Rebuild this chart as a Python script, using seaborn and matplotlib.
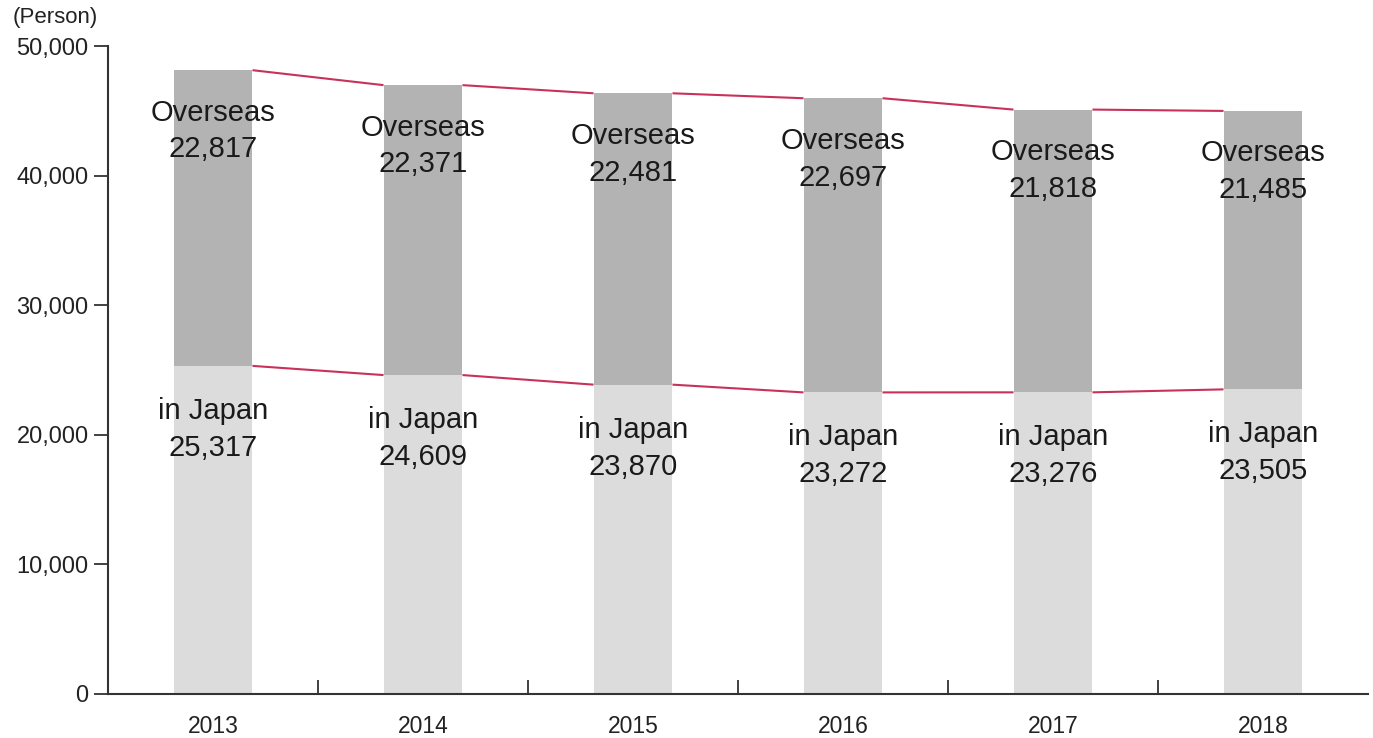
import matplotlib
matplotlib.use("Agg")
import matplotlib.pyplot as plt
import seaborn as sns
import pandas as pd
from matplotlib.ticker import FixedLocator, FuncFormatter

years = ["2013", "2014", "2015", "2016", "2017", "2018"]
in_japan = [25317, 24609, 23870, 23272, 23276, 23505]
overseas = [22817, 22371, 22481, 22697, 21818, 21485]
totals = [a + b for a, b in zip(in_japan, overseas)]

sns.set_theme(style="white")
plt.rcParams["font.family"] = ["Liberation Sans", "DejaVu Sans"]

df = pd.DataFrame({"year": years, "in_japan": in_japan, "total": totals})

fig = plt.figure(figsize=(13.73, 7.38), dpi=100)
ax = fig.add_axes([108 / 1373, 1 - 694 / 738, 1260 / 1373, 648 / 738])

bw = 0.376
sns.barplot(data=df, x="year", y="total", color="#b3b3b3", width=bw,
            saturation=1, ax=ax, edgecolor="none")
sns.barplot(data=df, x="year", y="in_japan", color="#dcdcdc", width=bw,
            saturation=1, ax=ax, edgecolor="none")

n = len(years)
tot_patches = ax.patches[:n]
jp_patches = ax.patches[n:2 * n]

line_color = "#c8325a"
for patches in (tot_patches, jp_patches):
    for i in range(n - 1):
        p0, p1 = patches[i], patches[i + 1]
        ax.plot([p0.get_x() + p0.get_width(), p1.get_x()],
                [p0.get_height(), p1.get_height()],
                color=line_color, lw=1.5, solid_capstyle="butt", zorder=3)

for i in range(n):
    ax.text(i, totals[i] - 4700, f"Overseas\n{overseas[i]:,}", ha="center",
            va="center", fontsize=21, color="#1a1a1a", linespacing=1.4, zorder=4)
    ax.text(i, in_japan[i] - 4900, f"in Japan\n{in_japan[i]:,}", ha="center",
            va="center", fontsize=21, color="#1a1a1a", linespacing=1.4, zorder=4)

ax.set_xlim(-0.5, n - 0.5)
ax.set_ylim(0, 50000)
ax.yaxis.set_major_locator(FixedLocator([0, 10000, 20000, 30000, 40000, 50000]))
ax.yaxis.set_major_formatter(FuncFormatter(lambda v, p: f"{int(v):,}"))
ax.set_xlabel("")
ax.set_ylabel("")

for s in ["top", "right"]:
    ax.spines[s].set_visible(False)
for s in ["left", "bottom"]:
    ax.spines[s].set_color("#333333")
    ax.spines[s].set_linewidth(1.5)

ax.tick_params(axis="y", which="major", direction="out", length=10, width=1.3,
               color="#333333", labelsize=17, labelcolor="#222222", pad=4, left=True)
ax.tick_params(axis="x", which="major", length=0, labelsize=16.5,
               labelcolor="#222222", pad=15)
ax.set_xticks(range(n))
ax.set_xticklabels(years)
ax.xaxis.set_minor_locator(FixedLocator([i + 0.5 for i in range(n - 1)]))
ax.tick_params(axis="x", which="minor", direction="in", length=10, width=1.3,
               color="#333333", bottom=True)

fig.text(13 / 1373, 1 - 18 / 738, "(Person)", ha="left", va="center",
         fontsize=16, color="#222222")

fig.savefig("out.png", dpi=100)
